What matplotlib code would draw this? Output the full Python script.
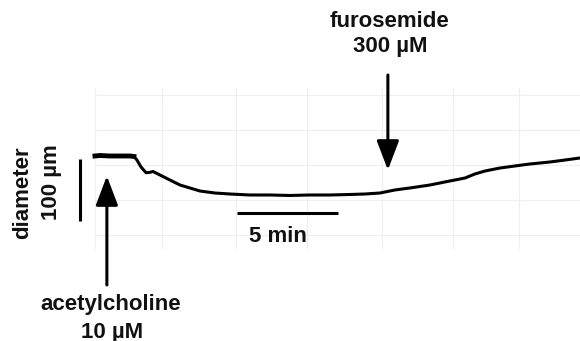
import matplotlib.pyplot as plt

# vessel diameter trace (time in min, change in um)
time_min = [0.00, 0.25, 0.74, 1.24, 1.73, 1.93, 2.08, 2.28, 2.53, 2.72, 2.87,
            3.02, 3.32, 3.71, 4.21, 4.70, 5.20, 5.94, 6.68, 7.67, 8.66, 9.65,
            10.64, 11.63, 12.62, 13.37, 14.11, 14.85, 15.59, 16.58, 17.57,
            18.32, 18.81, 19.31, 20.05, 20.79, 21.53, 22.52, 23.27, 24.01]
diam_um = [0.0, 0.8, 0.0, 0.0, 0.0, -0.8, -6.5, -17.7, -27.0, -26.4, -25.0,
           -27.4, -32.3, -38.7, -46.8, -51.6, -56.5, -59.7, -61.3, -62.9,
           -62.9, -63.7, -62.9, -62.9, -62.1, -61.3, -59.7, -54.8, -51.6,
           -46.8, -40.3, -35.5, -29.0, -24.2, -19.4, -16.1, -12.9, -9.7,
           -6.5, -3.2]

ach_time = 0.59        # acetylcholine 10 uM
furo_time = 14.5       # furosemide 300 uM
bar_um = 100
bar_min = 5

# faint chart-paper grid of the scanned recorder sheet
paper_x = [0.0, 3.3, 7.0, 10.5, 14.2, 17.7, 21.0]
paper_y = [98, 42, -14.5, -71, -127]

plt.rcParams['font.family'] = ['Liberation Sans', 'DejaVu Sans']

fig = plt.figure(figsize=(5.8, 3.41), dpi=100)
ax = fig.add_axes([0, 0, 1, 1])
ax.set_xlim(-4.70, 24.01)
ax.set_ylim(-298.4, 251.6)
ax.axis('off')

ax.vlines(paper_x, -150, 112, color='#efefef', lw=0.8, zorder=0)
ax.hlines(paper_y, 0, 24.01, color='#efefef', lw=0.8, zorder=0)

# trace
ax.plot(time_min, diam_um, color='black', lw=2.2, solid_joinstyle='round')
ax.plot(time_min[:6], diam_um[:6], color='black', lw=3.5)

# scale bars
ax.plot([-0.74, -0.74], [-5, -5 - bar_um], color='black', lw=2.2, solid_capstyle='butt')
ax.plot([7.03, 7.03 + bar_min], [-91.9, -91.9], color='black', lw=2.2, solid_capstyle='butt')

txt = dict(fontsize=16, fontweight='bold', ha='center', va='center', color='#111111')
ax.text(-3.56, -59.7, 'diameter', rotation=90, **txt)
ax.text(-2.13, -41.9, '100 µm', rotation=90, **txt)
ax.text(9.06, -130.6, f'{bar_min} min', **txt)

# drug arrows
arrow = dict(arrowstyle='-|>,head_length=1.0,head_width=0.38', color='black',
             lw=2.2, mutation_scale=18, shrinkA=0, shrinkB=0)
ax.annotate('', xy=(furo_time, -22.6), xytext=(furo_time, 130.6), arrowprops=arrow)
ax.annotate('', xy=(ach_time, -32.3), xytext=(ach_time, -208), arrowprops=arrow)

ax.text(14.6, 217.7, 'furosemide', **txt)
ax.text(14.6, 175.8, '300 µM', **txt)
ax.text(0.79, -240.3, 'acetylcholine', **txt)
ax.text(0.84, -283.9, '10 µM', **txt)

fig.savefig('out.png', dpi=100)
